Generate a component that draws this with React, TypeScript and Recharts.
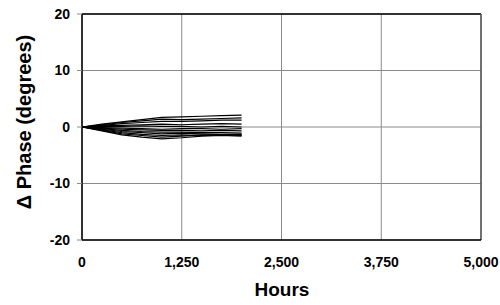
import React from 'react';
import { LineChart, Line, XAxis, YAxis, CartesianGrid, ReferenceLine } from 'recharts';

// Hours at which phase was sampled
const hours = [0, 250, 500, 750, 1000, 1250, 1500, 1750, 2000];

// Phase drift (degrees) for each unit
const unit1 = [0, 0.5, 0.9, 1.3, 1.7, 1.8, 1.9, 2.0, 2.1];
const unit2 = [0, 0.4, 0.8, 1.1, 1.4, 1.3, 1.4, 1.5, 1.6];
const unit3 = [0, 0.3, 0.6, 0.8, 1.0, 1.0, 1.1, 1.2, 1.2];
const unit4 = [0, 0.2, 0.3, 0.4, 0.5, 0.4, 0.5, 0.6, 0.5];
const unit5 = [0, 0.1, 0.1, 0.2, 0.1, 0.1, 0.0, 0.1, 0.0];
const unit6 = [0, -0.1, -0.2, -0.3, -0.4, -0.3, -0.3, -0.4, -0.3];
const unit7 = [0, -0.2, -0.4, -0.5, -0.6, -0.6, -0.7, -0.6, -0.7];
const unit8 = [0, -0.3, -0.6, -0.8, -0.9, -0.9, -1.0, -1.0, -1.1];
const unit9 = [0, -0.4, -0.8, -1.0, -1.2, -1.1, -1.2, -1.3, -1.3];
const unit10 = [0, -0.5, -1.0, -1.3, -1.5, -1.4, -1.5, -1.4, -1.5];
const unit11 = [0, -0.6, -1.2, -1.5, -1.8, -1.6, -1.4, -1.4, -1.4];
const unit12 = [0, -0.7, -1.4, -1.8, -2.1, -1.9, -1.6, -1.5, -1.6];

const units = [unit1, unit2, unit3, unit4, unit5, unit6, unit7, unit8, unit9, unit10, unit11, unit12];

const xTicks = [0, 1250, 2500, 3750, 5000];
const yTicks = [-20, -10, 0, 10, 20];

const font = '"Liberation Sans", Arial, sans-serif';

const App = () => {
  const data = hours.map((h, i) => {
    const row: any = { hours: h };
    units.forEach((u, k) => {
      row['u' + k] = u[i];
    });
    return row;
  });

  return (
    <div style={{ position: 'absolute', left: 0, top: 0, background: '#fff' }}>
      <LineChart width={500} height={305} data={data} margin={{ top: 14, right: 19, left: 0, bottom: 0 }}>
        <CartesianGrid stroke="#8a8a8a" strokeWidth={1} />
        <XAxis
          dataKey="hours"
          type="number"
          domain={[0, 5000]}
          ticks={xTicks}
          height={65}
          tickLine={false}
          axisLine={{ stroke: '#000', strokeWidth: 1.5 }}
          tickMargin={11}
          tickFormatter={(v: number) => v.toLocaleString('en-US')}
          tick={{ fill: '#000', fontSize: 14, fontWeight: 'bold', fontFamily: font }}
          label={{
            content: () => (
              <text x={282} y={296} textAnchor="middle" fontSize={19} fontWeight="bold" fontFamily={font} fill="#000">
                Hours
              </text>
            ),
          }}
        />
        <YAxis
          type="number"
          domain={[-20, 20]}
          ticks={yTicks}
          width={82}
          tickSize={5}
          tickMargin={7}
          tickLine={{ stroke: '#8a8a8a' }}
          axisLine={{ stroke: '#000', strokeWidth: 1.5 }}
          tick={{ fill: '#000', fontSize: 14, fontWeight: 'bold', fontFamily: font }}
          label={{
            content: () => (
              <text
                x={0}
                y={0}
                transform="translate(31,122) rotate(-90)"
                textAnchor="middle"
                fontSize={20}
                fontWeight="bold"
                fontFamily={font}
                fill="#000"
              >
                Δ Phase (degrees)
              </text>
            ),
          }}
        />
        <ReferenceLine y={20} stroke="#000" strokeWidth={1.5} />
        <ReferenceLine x={5000} stroke="#555" strokeWidth={1.5} />
        {units.map((_, k) => (
          <Line
            key={k}
            dataKey={'u' + k}
            stroke="#000"
            strokeWidth={1.2}
            dot={false}
            isAnimationActive={false}
          />
        ))}
      </LineChart>
    </div>
  );
};

export default App;
